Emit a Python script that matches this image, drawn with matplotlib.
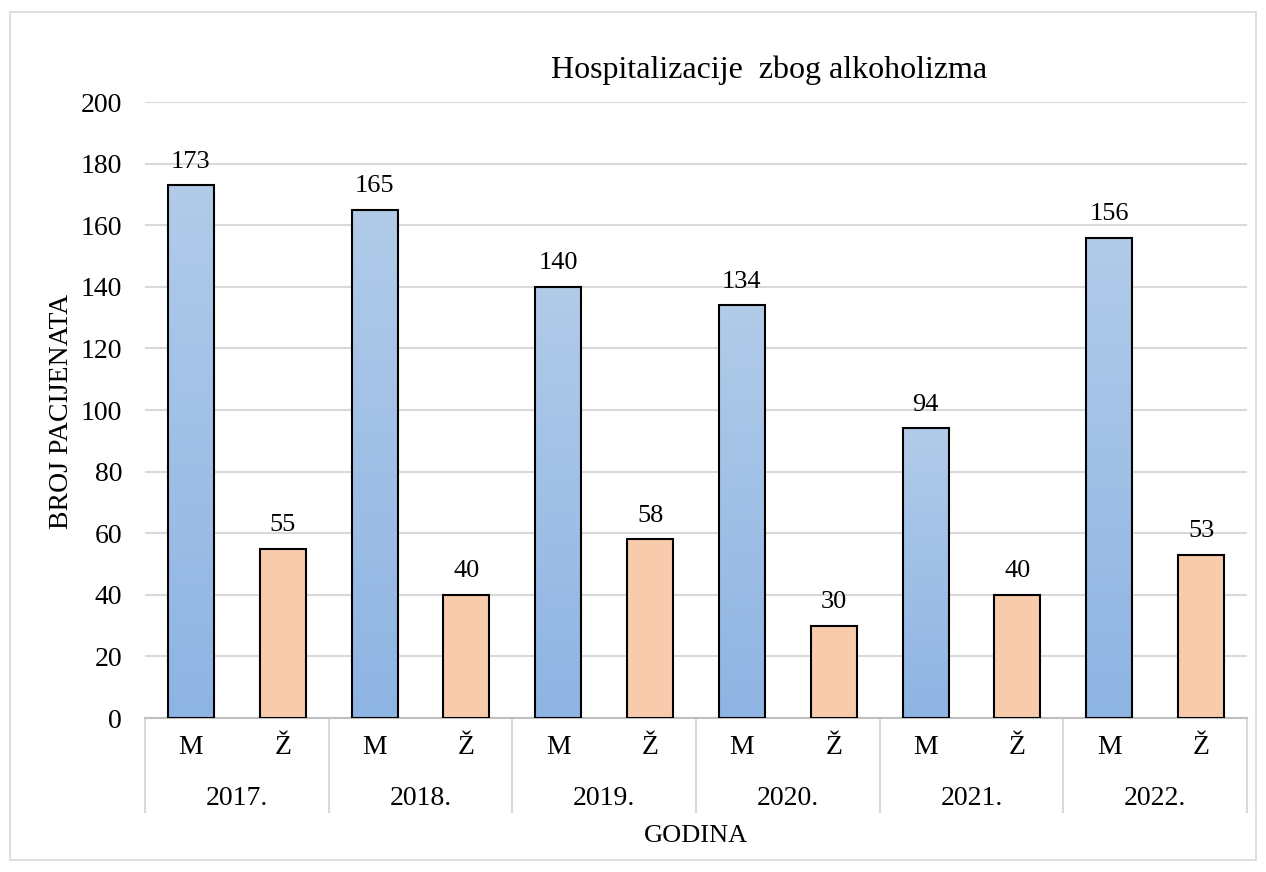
import matplotlib
matplotlib.use("Agg")
import matplotlib.pyplot as plt
import matplotlib.transforms as mtransforms
from matplotlib.patches import Rectangle
from matplotlib.colors import LinearSegmentedColormap
import numpy as np

years = ["2017.", "2018.", "2019.", "2020.", "2021.", "2022."]
sex_labels = ["M", "Ž"]
male = [173, 165, 140, 134, 94, 156]
female = [55, 40, 58, 30, 40, 53]

plt.rcParams['font.family'] = ['Liberation Serif', 'DejaVu Serif']

fig = plt.figure(figsize=(12.66, 8.72), dpi=100)
W, H = 1266, 872
ax = fig.add_axes([145 / W, 1 - 718 / H, (1247 - 145) / W, (718 - 102) / H])

def fy(py):
    return 1 - py / H

# figure border
fig.patches.append(Rectangle((10 / W, 12 / H), (1256 - 10) / W, (860 - 12) / H,
                             transform=fig.transFigure, fill=False,
                             edgecolor='#d9d9d9', linewidth=1.2))

ax.set_yticks(np.arange(0, 201, 20))
ax.yaxis.grid(True, color='#d9d9d9', linewidth=1.5)
ax.set_axisbelow(True)
for s in ['left', 'right', 'top']:
    ax.spines[s].set_visible(False)
ax.spines['bottom'].set_color('#bfbfbf')
ax.spines['bottom'].set_linewidth(1.5)
ax.tick_params(axis='y', length=0, labelsize=20, pad=16.5)
ax.tick_params(axis='x', length=0, labelsize=20, pad=12)

bw = 0.5
grad = np.linspace(0, 1, 256).reshape(-1, 1)
cmap = LinearSegmentedColormap.from_list('g', ['#8eb4e3', '#b1cbe9'])

xpos, xlabels = [], []
for i, (m, f) in enumerate(zip(male, female)):
    xm, xf = 2 * i, 2 * i + 1
    xpos += [xm, xf]
    xlabels += sex_labels
    bar = ax.bar(xm, m, width=bw, color='none', edgecolor='black', linewidth=1.5, zorder=3)[0]
    im = ax.imshow(grad, cmap=cmap, aspect='auto', origin='lower',
                   extent=[xm - bw / 2, xm + bw / 2, 0, m], zorder=2)
    im.set_clip_path(bar)
    ax.bar(xf, f, width=bw, color='#f8cbad', edgecolor='black', linewidth=1.5, zorder=3)
    ax.annotate(str(m), (xm, m), xytext=(0, 12.5), textcoords='offset points',
                ha='center', va='baseline', fontsize=19)
    ax.annotate(str(f), (xf, f), xytext=(0, 12.5), textcoords='offset points',
                ha='center', va='baseline', fontsize=19)

ax.set_xlim(-0.5, 2 * len(years) - 0.5)
ax.set_ylim(0, 200)
ax.set_xticks(xpos)
ax.set_xticklabels(xlabels)

trans = mtransforms.blended_transform_factory(ax.transData, fig.transFigure)
for k in range(len(years) + 1):
    x = 2 * k - 0.5
    ax.plot([x, x], [fy(718), fy(812)], transform=trans, color='#d9d9d9',
            linewidth=1.5, clip_on=False)
for i, y in enumerate(years):
    ax.text(2 * i + 0.5, fy(805), y, transform=trans,
            ha='center', va='baseline', fontsize=20)

fig.text(696 / W, fy(842), 'GODINA', ha='center', va='baseline', fontsize=19)
fig.text(62 / W, fy(411), 'BROJ PACIJENATA', rotation=90,
         ha='center', va='center', fontsize=20)
fig.text(551 / W, fy(78), 'Hospitalizacije  zbog alkoholizma',
         ha='left', va='baseline', fontsize=23)

fig.savefig('out.png', dpi=100)
